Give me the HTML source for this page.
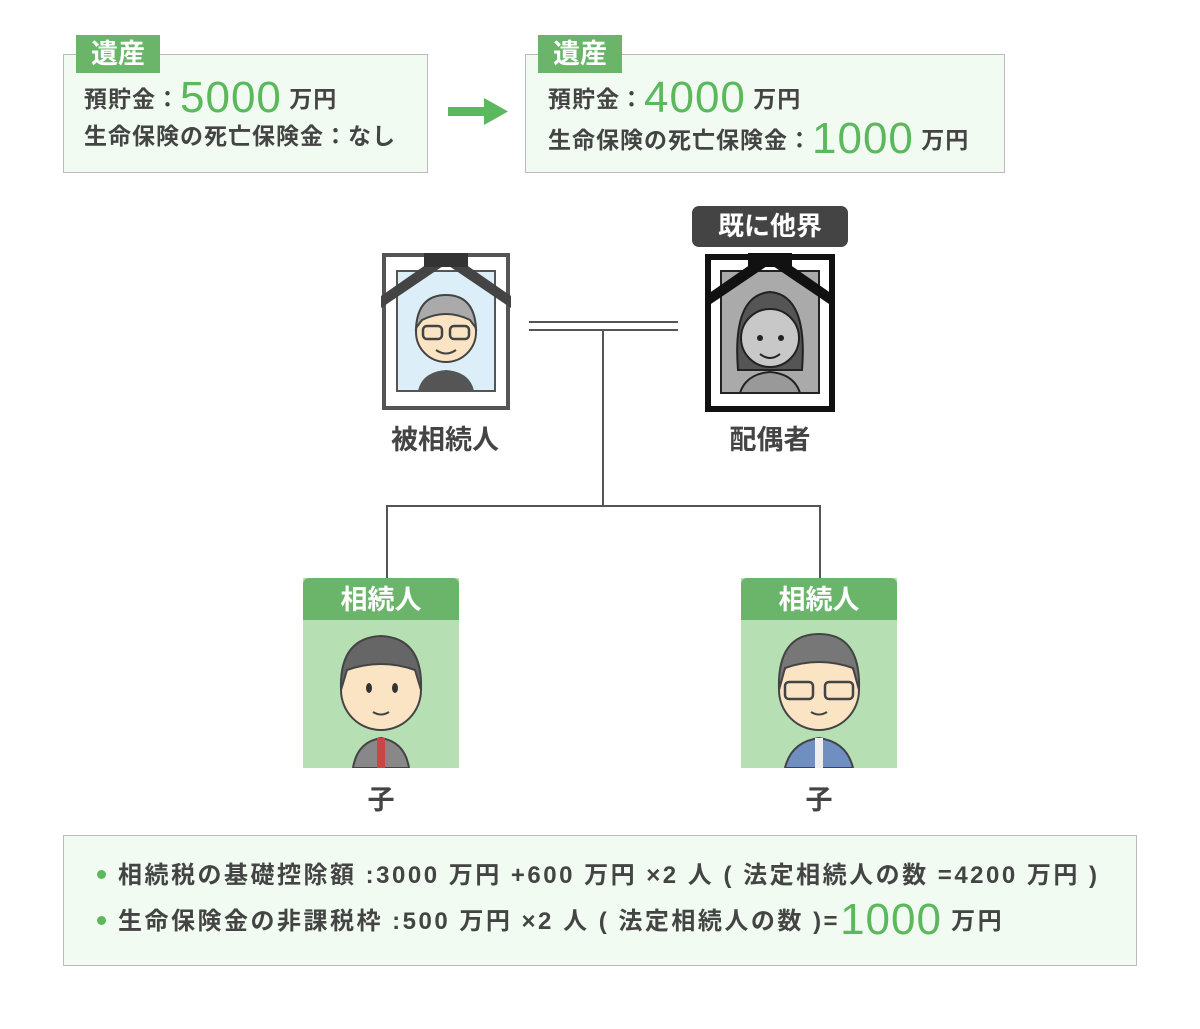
<!DOCTYPE html>
<html><head><meta charset="utf-8"><style>
body{margin:0;width:1200px;height:1029px;background:#fff;position:relative;overflow:hidden;font-family:"Liberation Sans","Noto Sans CJK JP",sans-serif;color:#444;font-weight:bold}
.a{position:absolute}
.box{position:absolute;background:#f1fbf1;border:1px solid #bbb;box-sizing:border-box}
.tag{position:absolute;background:#6ab56a;color:#fff;font-size:27px;text-align:center;line-height:38px}
.t{position:absolute;font-size:23px;letter-spacing:1px;white-space:nowrap;line-height:30px}
.big{color:#5cb85c;font-size:44px;font-weight:normal;vertical-align:-5px;letter-spacing:1px}
.lbl{position:absolute;font-size:27px;text-align:center;width:200px}
.ln{position:absolute;background:#555}
.bul{position:absolute;font-size:24px;letter-spacing:2.5px;white-space:nowrap;line-height:30px}
.bul:before{content:"";display:inline-block;width:9px;height:9px;border-radius:50%;background:#5cb85c;margin-right:12px;vertical-align:4px}
</style></head><body>
<div class="box" style="left:63px;top:54px;width:365px;height:119px"></div>
<div class="tag" style="left:76px;top:35px;width:84px">遺産</div>
<div class="t" style="left:84px;top:83px">預貯金：<span class="big">5000</span> 万円</div>
<div class="t" style="left:84px;top:121px">生命保険の死亡保険金：なし</div>
<svg class="a" style="left:448px;top:98px" width="62" height="28"><rect x="0" y="9" width="38" height="9" fill="#5cb85c"/><polygon points="36,0 60,13.5 36,27" fill="#5cb85c"/></svg>
<div class="box" style="left:525px;top:54px;width:480px;height:119px"></div>
<div class="tag" style="left:538px;top:35px;width:84px">遺産</div>
<div class="t" style="left:548px;top:83px">預貯金：<span class="big">4000</span> 万円</div>
<div class="t" style="left:548px;top:124px">生命保険の死亡保険金：<span class="big">1000</span> 万円</div>

<svg class="a" style="left:378px;top:250px" width="136" height="162">
<rect x="6" y="5" width="124" height="153" fill="#fff" stroke="#555" stroke-width="4"/>
<rect x="19" y="21" width="98" height="120" fill="#dceff8" stroke="#555" stroke-width="2"/>
<circle cx="68" cy="82" r="30" fill="#fbe4c4" stroke="#444" stroke-width="2"/>
<path d="M38 78 Q40 45 68 45 Q96 45 98 78 L92 70 Q68 58 44 70Z" fill="#aaa" stroke="#444" stroke-width="2"/>
<rect x="45" y="76" width="19" height="13" rx="4" fill="none" stroke="#444" stroke-width="2.5"/>
<rect x="72" y="76" width="19" height="13" rx="4" fill="none" stroke="#444" stroke-width="2.5"/>
<path d="M58 100 Q68 107 78 100" fill="none" stroke="#444" stroke-width="2"/>
<path d="M40 141 Q44 122 68 120 Q92 122 96 141Z" fill="#555"/>
<polygon points="3,46 62,5 74,5 133,46 133,58 68,14 3,58" fill="#444"/>
<rect x="46" y="3" width="44" height="14" fill="#333"/>
</svg>
<div class="lbl" style="left:345px;top:418px">被相続人</div>

<div class="a" style="left:692px;top:206px;width:156px;height:41px;background:#444;border-radius:7px;color:#fff;font-size:26px;text-align:center;line-height:41px">既に他界</div>
<svg class="a" style="left:702px;top:250px" width="136" height="164">
<rect x="6" y="7" width="124" height="152" fill="#fff" stroke="#111" stroke-width="6"/>
<rect x="19" y="21" width="98" height="122" fill="#aaa" stroke="#222" stroke-width="2"/>
<path d="M36 120 Q30 45 68 42 Q106 45 100 120Z" fill="#555" stroke="#222" stroke-width="2"/>
<circle cx="68" cy="88" r="29" fill="#c8c8c8" stroke="#222" stroke-width="2"/>
<circle cx="58" cy="88" r="3" fill="#222"/><circle cx="79" cy="88" r="3" fill="#222"/>
<path d="M58 104 Q68 112 78 104" fill="none" stroke="#222" stroke-width="2"/>
<path d="M38 143 Q44 124 68 122 Q92 124 98 143Z" fill="#999" stroke="#222" stroke-width="2"/>
<polygon points="3,46 62,5 74,5 133,46 133,58 68,14 3,58" fill="#111"/>
<rect x="46" y="3" width="44" height="14" fill="#111"/>
</svg>
<div class="lbl" style="left:670px;top:418px">配偶者</div>

<div class="ln" style="left:529px;top:321px;width:149px;height:2px"></div>
<div class="ln" style="left:529px;top:329px;width:149px;height:2px"></div>
<div class="ln" style="left:602px;top:330px;width:2px;height:176px"></div>
<div class="ln" style="left:386px;top:505px;width:435px;height:2px"></div>
<div class="ln" style="left:386px;top:505px;width:2px;height:74px"></div>
<div class="ln" style="left:819px;top:505px;width:2px;height:74px"></div>

<div class="a" style="left:303px;top:578px;width:156px;height:190px;background:#b6e0b4"></div>
<div class="tag" style="left:303px;top:578px;width:156px;height:42px;line-height:44px;border-radius:6px 6px 0 0">相続人</div>
<svg class="a" style="left:303px;top:620px" width="156" height="148">
<path d="M50 148 Q54 122 78 118 Q102 122 106 148Z" fill="#888" stroke="#444" stroke-width="2"/>
<rect x="74" y="118" width="8" height="30" fill="#c44"/>
<circle cx="78" cy="70" r="40" fill="#fbe4c4" stroke="#444" stroke-width="2"/>
<path d="M38 70 Q36 18 78 16 Q120 18 118 70 L112 50 Q78 38 44 50Z" fill="#666" stroke="#444" stroke-width="2"/>
<ellipse cx="66" cy="68" rx="3" ry="5" fill="#333"/><ellipse cx="92" cy="68" rx="3" ry="5" fill="#333"/>
<path d="M70 92 Q78 97 86 92" fill="none" stroke="#444" stroke-width="2"/>
</svg>
<div class="lbl" style="left:281px;top:778px">子</div>

<div class="a" style="left:741px;top:578px;width:156px;height:190px;background:#b6e0b4"></div>
<div class="tag" style="left:741px;top:578px;width:156px;height:42px;line-height:44px;border-radius:6px 6px 0 0">相続人</div>
<svg class="a" style="left:741px;top:620px" width="156" height="148">
<path d="M44 148 Q50 122 78 118 Q106 122 112 148Z" fill="#6f8fc2" stroke="#444" stroke-width="2"/>
<rect x="74" y="118" width="8" height="30" fill="#eee"/>
<circle cx="78" cy="70" r="40" fill="#fbe4c4" stroke="#444" stroke-width="2"/>
<path d="M38 70 Q36 14 78 14 Q120 14 118 70 L112 48 Q78 36 44 48Z" fill="#777" stroke="#444" stroke-width="2"/>
<rect x="44" y="62" width="28" height="17" rx="4" fill="none" stroke="#444" stroke-width="2.5"/>
<rect x="84" y="62" width="28" height="17" rx="4" fill="none" stroke="#444" stroke-width="2.5"/>
<path d="M70 92 Q78 97 86 92" fill="none" stroke="#444" stroke-width="2"/>
</svg>
<div class="lbl" style="left:719px;top:778px">子</div>

<div class="box" style="left:63px;top:835px;width:1074px;height:131px"></div>
<div class="bul" style="left:97px;top:861px">相続税の基礎控除額 :3000 万円 +600 万円 ×2 人 ( 法定相続人の数 =4200 万円 )</div>
<div class="bul" style="left:97px;top:905px">生命保険金の非課税枠 :500 万円 ×2 人 ( 法定相続人の数 )=<span class="big">1000</span> 万円</div>
</body></html>
